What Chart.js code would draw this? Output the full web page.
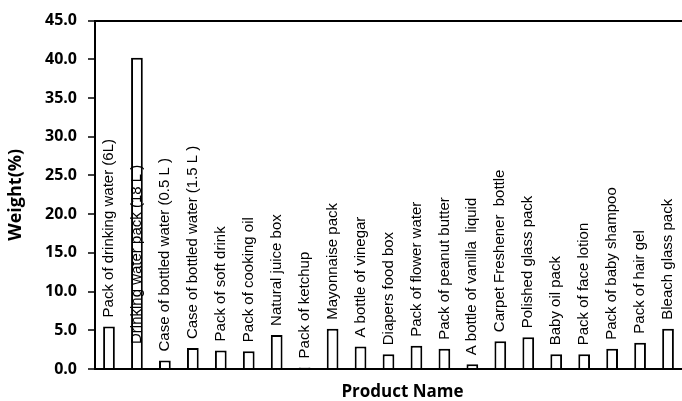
<!DOCTYPE html>
<html>
<head>
<meta charset="utf-8">
<script src="https://cdn.jsdelivr.net/npm/chart.js@4"></script>
<style>
  html, body { margin: 0; padding: 0; background: #fff; overflow: hidden; }
  #wrap { width: 682px; height: 401px; }
</style>
</head>
<body>
<div id="wrap"><canvas id="chart" width="682" height="401"></canvas></div>
<script>
// Product names, in display order
const products = [
  'Pack of drinking water (6L)',
  'Drinking water pack (18 L )',
  'Case of bottled water (0.5 L )',
  'Case of bottled water (1.5 L )',
  'Pack of soft drink',
  'Pack of cooking oil',
  'Natural juice box',
  'Pack of ketchup',
  'Mayonnaise pack',
  'A bottle of vinegar',
  'Diapers food box',
  'Pack of flower water',
  'Pack of peanut butter',
  'A bottle of vanilla  liquid',
  'Carpet Freshener  bottle',
  'Polished glass pack',
  'Baby oil pack',
  'Pack of face lotion',
  'Pack of baby shampoo',
  'Pack of hair gel',
  'Bleach glass pack'
];

// Share of total weight, %
const weights = [5.5, 40.2, 1.1, 2.7, 2.4, 2.3, 4.4, 0.2, 5.2, 2.9, 1.9, 3.0, 2.6, 0.6, 3.6, 4.1, 1.9, 1.9, 2.6, 3.4, 5.2];

// Y axis range and step
const yMin = 0;
const yMax = 45;
const yStep = 5;

const xTitle = 'Product Name';
const yTitle = 'Weight(%)';

// Vertical product names written next to each bar
const barNames = {
  id: 'barNames',
  afterDatasetsDraw(chart) {
    const { ctx, chartArea } = chart;
    const meta = chart.getDatasetMeta(0);
    ctx.save();
    ctx.font = '15px "Liberation Sans", Arial, sans-serif';
    ctx.fillStyle = '#000';
    ctx.textAlign = 'left';
    ctx.textBaseline = 'middle';
    meta.data.forEach((bar, i) => {
      const text = chart.data.labels[i];
      const w = ctx.measureText(text).width;
      let start = bar.y - 9;
      // too tall to sit above the bar: write it over the bar, near its base
      if (start - w < chartArea.top) start = bar.base - 24;
      ctx.save();
      ctx.translate(bar.x, start);
      ctx.rotate(-Math.PI / 2);
      ctx.fillText(text, 0, 0);
      ctx.restore();
    });
    ctx.restore();
  }
};

// Category axis title, set a little right of the plot centre
const xAxisTitle = {
  id: 'xAxisTitle',
  afterDraw(chart) {
    const { ctx, chartArea } = chart;
    ctx.save();
    ctx.font = 'bold 17px "Open Sans", sans-serif';
    ctx.fillStyle = '#000';
    ctx.textAlign = 'center';
    ctx.textBaseline = 'middle';
    ctx.fillText(xTitle, (chartArea.left + chartArea.right) / 2 + 14, 392);
    ctx.restore();
  }
};

new Chart(document.getElementById('chart'), {
  type: 'bar',
  data: {
    labels: products,
    datasets: [{
      data: weights,
      backgroundColor: '#fff',
      borderColor: '#000',
      borderWidth: 2,
      barPercentage: 0.42,
      categoryPercentage: 1.0
    }]
  },
  options: {
    responsive: false,
    devicePixelRatio: 1,
    animation: false,
    layout: { padding: 0 },
    plugins: {
      legend: { display: false },
      tooltip: { enabled: false }
    },
    scales: {
      x: {
        afterFit(scale) { scale.height = 32; },
        grid: { display: false },
        border: { display: true, color: '#000', width: 2 },
        ticks: { display: false },
        title: { display: false }
      },
      y: {
        min: yMin,
        max: yMax,
        afterFit(scale) { scale.width = 95; },
        border: { display: true, color: '#000', width: 2 },
        grid: {
          drawOnChartArea: true,
          color: (c) => (c.tick && c.tick.value === yMax ? '#000' : 'rgba(0,0,0,0)'),
          lineWidth: 2,
          tickColor: '#000',
          tickLength: 7,
          tickWidth: 1.5
        },
        ticks: {
          stepSize: yStep,
          padding: 11,
          color: '#000',
          font: { family: '"Open Sans", sans-serif', size: 16, weight: 'bold' },
          callback: (v) => Number(v).toFixed(1)
        },
        title: {
          display: true,
          text: yTitle,
          color: '#000',
          font: { family: '"Open Sans", sans-serif', size: 18, weight: 'bold', lineHeight: 1.2 },
          padding: { top: 5, bottom: 0 }
        }
      }
    }
  },
  plugins: [barNames, xAxisTitle]
});
</script>
</body>
</html>
